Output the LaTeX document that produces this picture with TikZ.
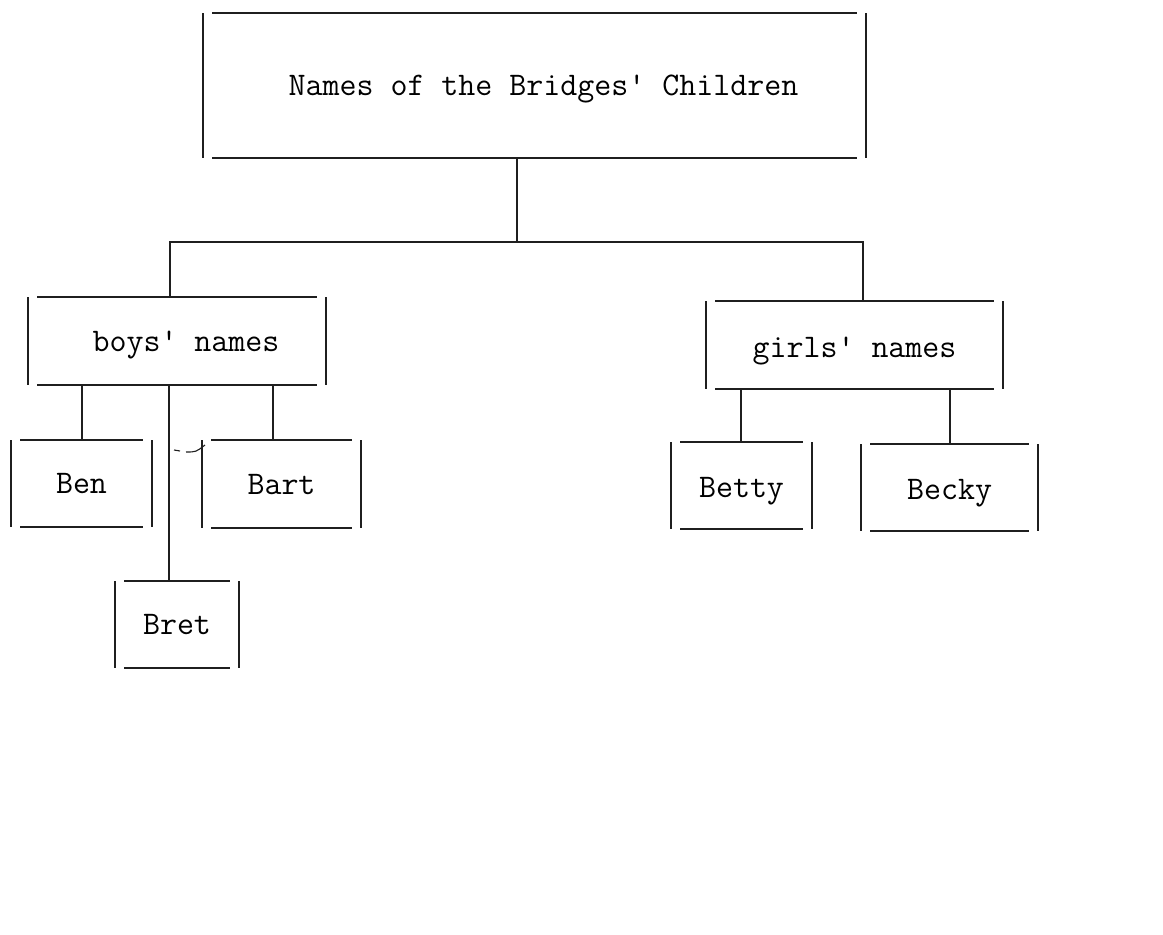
\documentclass[tikz,border=0pt]{standalone}
\usepackage{fontspec}
\begin{document}
\begin{tikzpicture}[x=1pt,y=-1pt,
  line width=1.7pt, color={black!88},
  lbl/.style={inner sep=0pt, text height=20pt, text depth=0pt,
    font=\ttfamily\fontsize{33}{35}\selectfont, text=black},
]
\useasboundingbox (0,0) rectangle (1163,935);
% boxes (geometry only; sides drawn below)
\node[lbl, minimum width=661pt, minimum height=143pt] (title) at (534.5,85.5) {\hspace*{18pt}Names of the Bridges' Children};
\node[lbl, minimum width=296pt, minimum height=86pt] (boys) at (177,341) {\hspace*{18pt}boys' names};
\node[lbl, minimum width=295pt, minimum height=86pt] (girls) at (854.5,345) {\raisebox{-2pt}{girls' names}};
\node[lbl, minimum width=139pt, minimum height=85pt] (ben) at (81.5,483.5) {Ben};
\node[lbl, minimum width=157pt, minimum height=86pt] (bart) at (281.5,484) {Bart};
\node[lbl, minimum width=122pt, minimum height=85pt] (bret) at (177,624.5) {Bret};
\node[lbl, minimum width=139pt, minimum height=85pt] (betty) at (741.5,485.5) {\raisebox{-2pt}{Betty}};
\node[lbl, minimum width=175pt, minimum height=85pt] (becky) at (949.5,487.5) {\raisebox{-2pt}{Becky}};
\foreach \n in {title,boys,girls,ben,bart,bret,betty,becky}{
  \draw (\n.north west) -- (\n.south west);
  \draw (\n.north east) -- (\n.south east);
  \draw ([xshift=9pt]\n.north west) -- ([xshift=-9pt]\n.north east);
  \draw ([xshift=9pt]\n.south west) -- ([xshift=-9pt]\n.south east);
}
% connectors
\coordinate (j) at (517,242);
\coordinate (bl) at (170,242);
\coordinate (br) at (863,242);
\draw (title.south -| j) -- (j);
\draw (boys.north -| bl) -- (bl) -- (br) -- (girls.north -| br);
\draw ([xshift=0.5pt]ben.north) -- ([xshift=0.5pt]ben.north |- boys.south);
\draw ([xshift=-8.5pt]bart.north) -- ([xshift=-8.5pt]bart.north |- boys.south);
\draw ([xshift=-8pt]bret.north) -- ([xshift=-8pt]bret.north |- boys.south);
\draw ([xshift=-0.5pt]betty.north) -- ([xshift=-0.5pt]betty.north |- girls.south);
\draw ([xshift=0.5pt]becky.north) -- ([xshift=0.5pt]becky.north |- girls.south);
% small stray mark
\draw[line width=1.1pt] (174,450) -- (180,451);
\draw[line width=1.1pt] (186,452) .. controls (196,452) .. (205,445);
\end{tikzpicture}
\end{document}
